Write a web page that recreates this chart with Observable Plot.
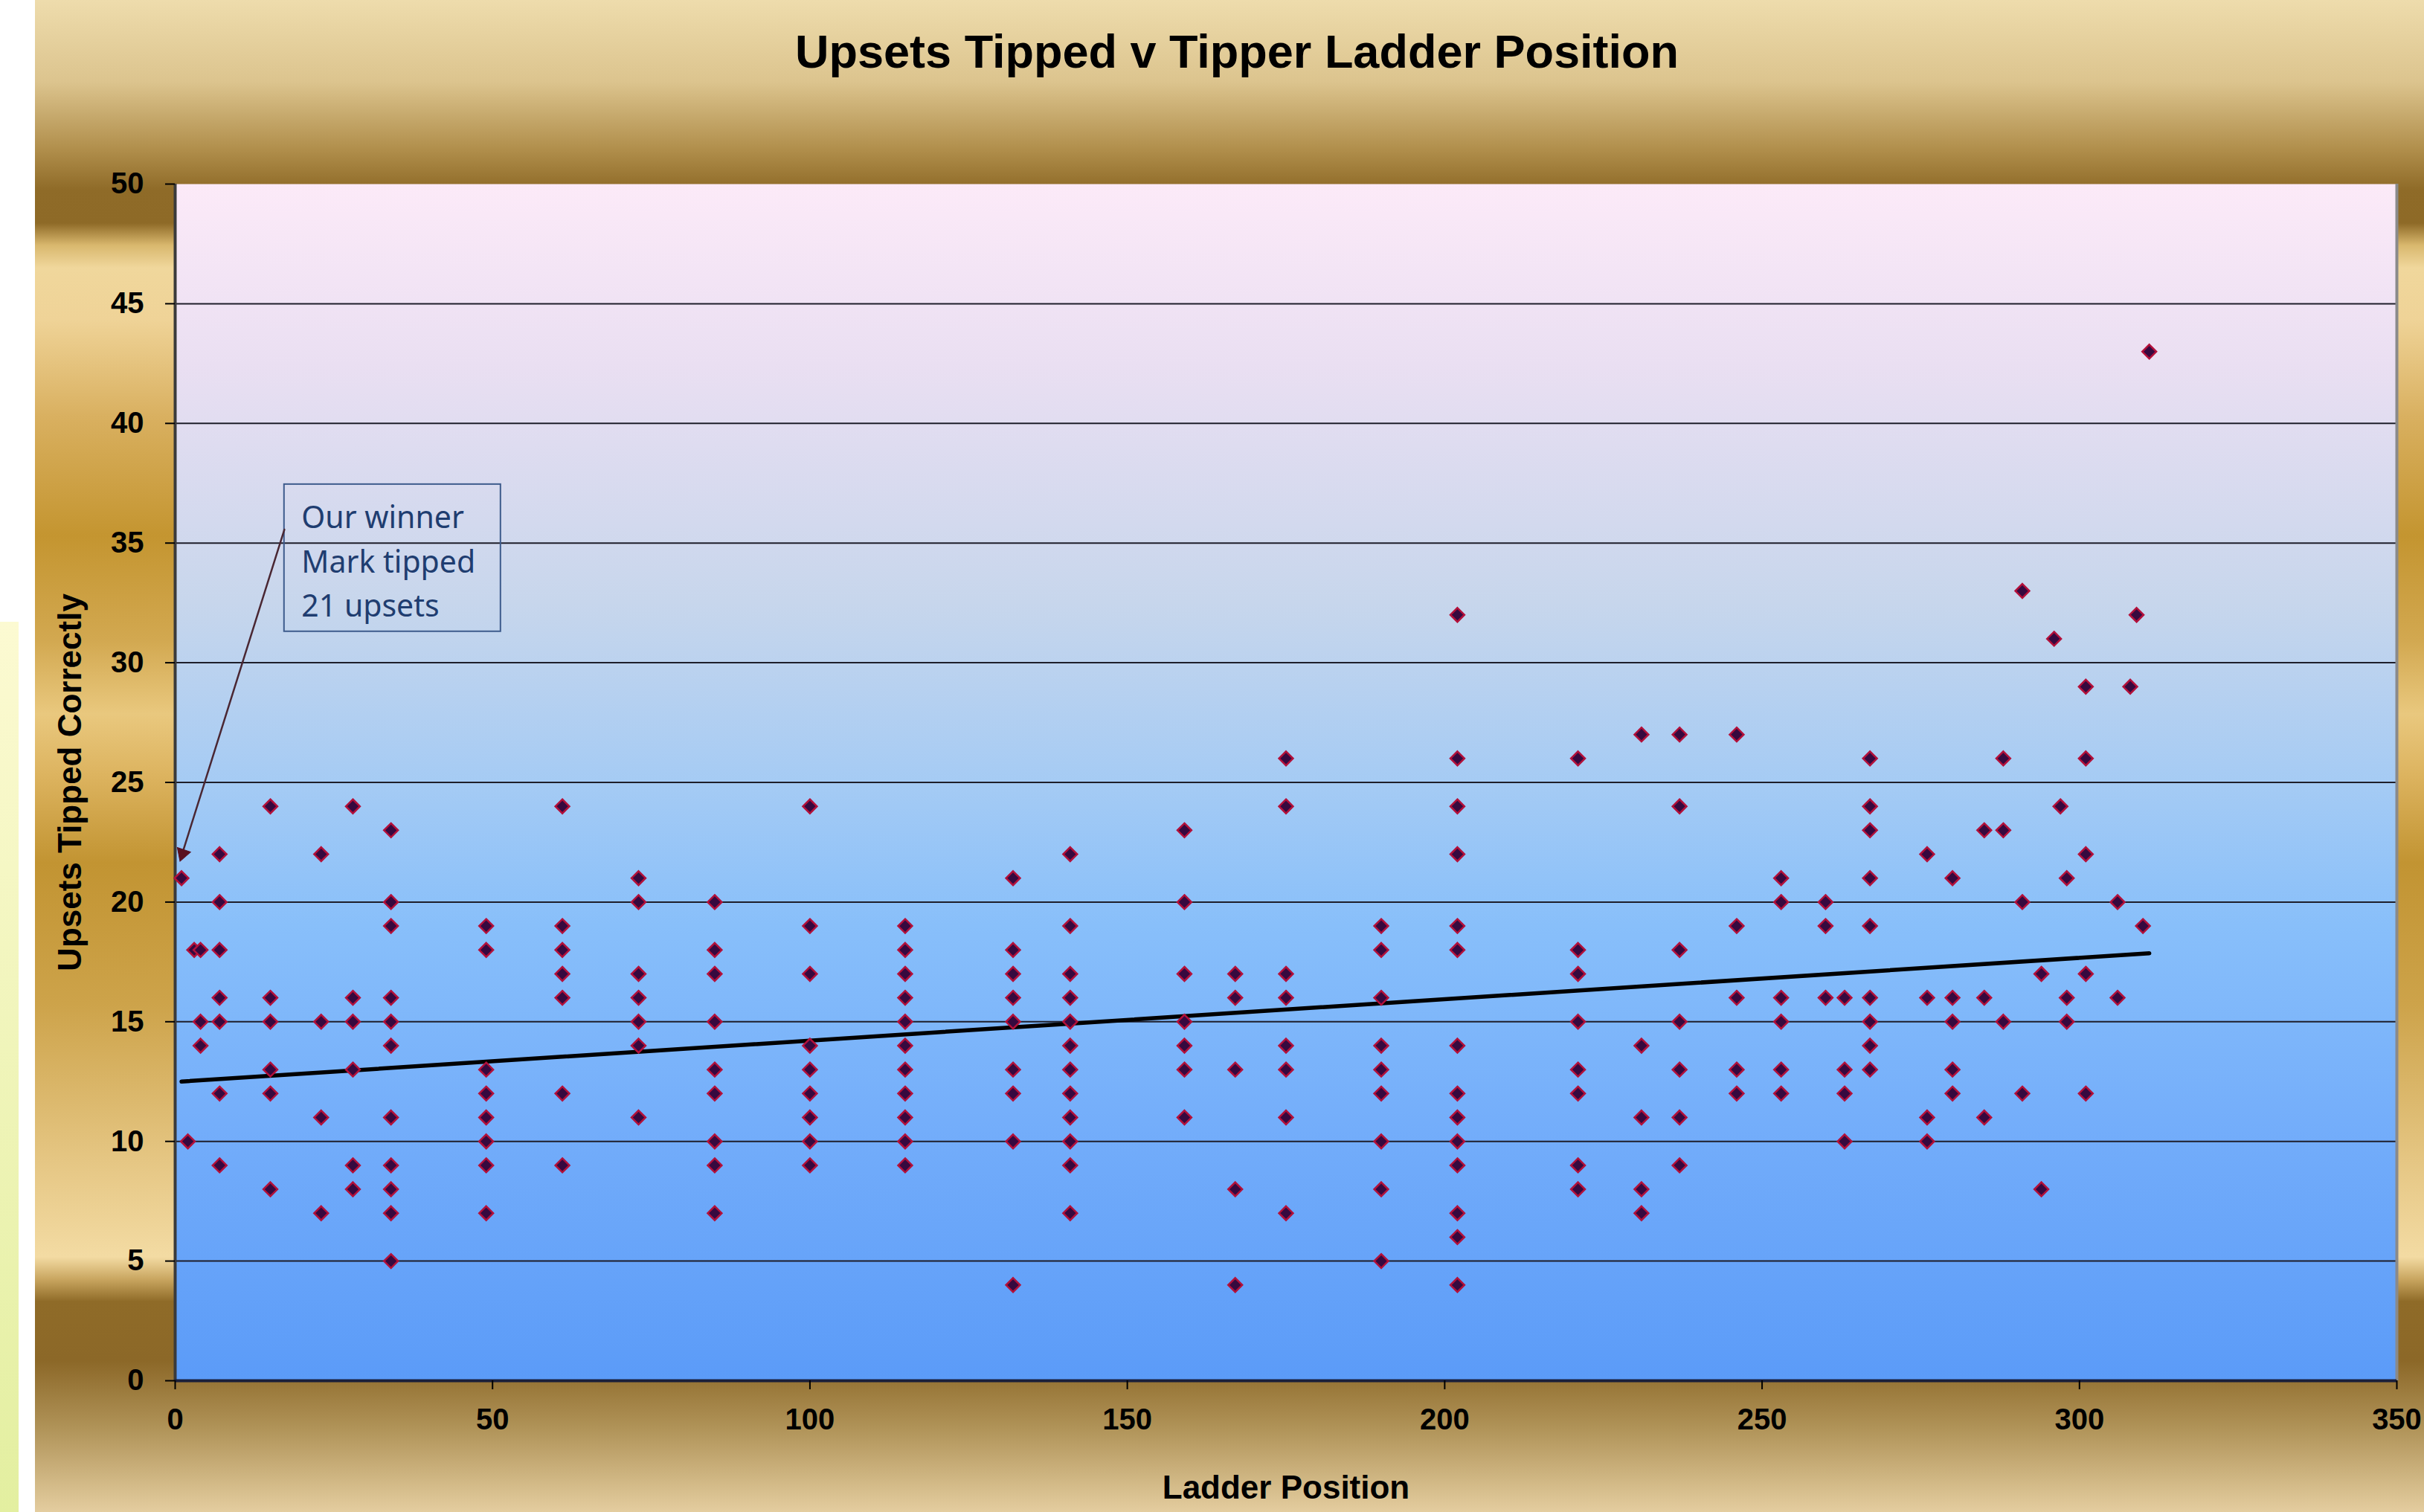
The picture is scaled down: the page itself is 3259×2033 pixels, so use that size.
<!DOCTYPE html>
<html>
<head>
<meta charset="utf-8">
<script src="https://cdn.jsdelivr.net/npm/d3@7"></script>
<script src="https://cdn.jsdelivr.net/npm/@observablehq/plot@0.6"></script>
<style>
  html, body { margin: 0; padding: 0; background: #fff; }
  #wrap { position: relative; width: 3259px; height: 2033px; overflow: hidden; background: #fff; }
  #gold {
    position: absolute; left: 47px; top: 0; width: 3212px; height: 2033px;
    background: linear-gradient(to bottom,
      #EEDCAC 0px, #DCC48E 110px, #B18F4C 200px, #8F6B28 255px, #8E6A27 300px,
      #D9B86E 330px, #F0D79C 360px, #EFD397 430px, #D9B060 560px, #C49530 720px,
      #D2A850 860px, #E9C87E 960px, #DDB460 1040px, #C29432 1160px, #CDA34A 1350px,
      #E5C683 1560px, #F3DBA3 1690px, #C9A660 1720px, #8F6B28 1750px, #8C6828 1830px,
      #B09358 1920px, #E4CD9F 2033px);
  }
  #strip { position: absolute; left: 0; top: 836px; width: 25px; height: 1197px;
    background: linear-gradient(to bottom, #FCFAD2, #E3EFA0); }
  #title { position: absolute; left: 63px; width: 3200px; top: 38px; text-align: center;
    font: bold 63px/63px 'Liberation Sans', Arial, sans-serif; color: #000; margin: 0; }
  #chart { position: absolute; left: 0; top: 0; }
</style>
</head>
<body>
<div id="wrap">
  <div id="gold"></div>
  <div id="strip"></div>
  <div id="chart"></div>
  <h1 id="title">Upsets Tipped v Tipper Ladder Position</h1>
</div>
<script>
// ---- Data ----
const ladderPositions = [1, 2, 3, 4, 7, 15, 23, 28, 34, 49, 61, 73, 85, 100, 115, 132, 141, 159, 167, 175,
  190, 202, 221, 231, 237, 246, 253, 260, 263, 267, 276, 280, 285, 288, 291, 294, 296, 297, 298, 301,
  306, 308, 309, 310, 311];
const upsetsTipped = [
  [21], [10], [18], [18, 15, 14],
  [22, 20, 18, 16, 15, 12, 9],
  [24, 16, 15, 13, 12, 8],
  [22, 15, 11, 7],
  [24, 16, 15, 13, 9, 8],
  [23, 20, 19, 16, 15, 14, 11, 9, 8, 7, 5],
  [19, 18, 13, 12, 11, 10, 9, 7],
  [24, 19, 18, 17, 16, 12, 9],
  [21, 20, 17, 16, 15, 14, 11],
  [20, 18, 17, 15, 13, 12, 10, 9, 7],
  [24, 19, 17, 14, 13, 12, 11, 10, 9],
  [19, 18, 17, 16, 15, 14, 13, 12, 11, 10, 9],
  [21, 18, 17, 16, 15, 13, 12, 10, 4],
  [22, 19, 17, 16, 15, 14, 13, 12, 11, 10, 9, 7],
  [23, 20, 17, 15, 14, 13, 11],
  [17, 16, 13, 8, 4],
  [26, 24, 17, 16, 14, 13, 11, 7],
  [19, 18, 16, 14, 13, 12, 10, 8, 5],
  [32, 26, 24, 22, 19, 18, 14, 12, 11, 10, 9, 7, 6, 4],
  [26, 18, 17, 15, 13, 12, 9, 8],
  [27, 14, 11, 8, 7],
  [27, 24, 18, 15, 13, 11, 9],
  [27, 19, 16, 13, 12],
  [21, 20, 16, 15, 13, 12],
  [20, 19, 16],
  [16, 13, 12, 10],
  [26, 24, 23, 21, 19, 16, 15, 14, 13],
  [22, 16, 11, 10],
  [21, 16, 15, 13, 12],
  [23, 16, 11],
  [26, 23, 15],
  [33, 20, 12],
  [17, 8],
  [31],
  [24],
  [21, 16, 15],
  [29, 26, 22, 17, 12],
  [20, 16],
  [29],
  [32],
  [19],
  [43]
];
// linear trendline endpoints
const trendPositions = [1, 311];
const trendUpsets = [12.5, 17.86];
const xTicks = [0, 50, 100, 150, 200, 250, 300, 350];
const yTicks = [0, 5, 10, 15, 20, 25, 30, 35, 40, 45, 50];
const winner = [{position: 1, upsets: 21}];
const annotationText = ["Our winner\nMark tipped\n21 upsets"];
const xLabel = ["Ladder Position"];
const yLabel = ["Upsets Tipped Correctly"];

const points = ladderPositions.flatMap((p, i) => upsetsTipped[i].map(u => ({position: p, upsets: u})));
const trend = trendPositions.map((p, i) => ({position: p, upsets: trendUpsets[i]}));

const chart = Plot.plot({
  width: 3259,
  height: 2033,
  marginLeft: 235,
  marginRight: 37,
  marginTop: 247,
  marginBottom: 177,
  x: {domain: [0, 350], label: null},
  y: {domain: [0, 50], label: null},
  style: {background: "transparent", fontFamily: "'Liberation Sans', Arial, sans-serif", color: "#000", overflow: "visible"},
  marks: [
    Plot.frame({fill: "url(#plotBg)", stroke: "none"}),
    Plot.gridY(yTicks.filter(t => t > 0 && t < 50), {stroke: "#1e1e2a", strokeOpacity: 1, strokeWidth: 2}),
    Plot.ruleX([350], {stroke: "#8a8a8a", strokeWidth: 4}),
    Plot.ruleX([0], {stroke: "#3a3a3a", strokeWidth: 4}),
    Plot.ruleY([0], {stroke: "#1a1f3a", strokeWidth: 4}),
    Plot.axisY({ticks: yTicks, tickSize: 13, tickPadding: 29, fontSize: 40, fontWeight: "bold", label: null, strokeWidth: 2}),
    Plot.axisX({ticks: xTicks, tickSize: 12, tickPadding: 25, fontSize: 40, fontWeight: "bold", label: null, strokeWidth: 2}),
    Plot.text(xLabel, {frameAnchor: "bottom", dy: 158, fontSize: 44, fontWeight: "bold"}),
    Plot.text(yLabel, {frameAnchor: "left", textAnchor: "middle", dx: -141, rotate: -90, fontSize: 44, fontWeight: "bold"}),
    Plot.line(trend, {x: "position", y: "upsets", stroke: "#000", strokeWidth: 5.5}),
    Plot.dot(points, {x: "position", y: "upsets", symbol: "diamond2", r: 8.5, fill: "#36093f", stroke: "#b3103a", strokeWidth: 2.5}),
    // annotation box, text and arrow
    Plot.rect([0], {x1: 17.2, x2: 51.3, y1: 31.3, y2: 37.45, fill: "none", stroke: "#3d5b8c", strokeWidth: 2}),
    Plot.text(annotationText, {x: 19.9, y: 34.37, textAnchor: "start", lineAnchor: "middle", lineHeight: 1.45,
      fontSize: 41, fontFamily: "'Noto Sans', 'Open Sans', sans-serif", fontWeight: "normal", fill: "#1f3d70"}),
    Plot.arrow(winner, {x1: () => 17.5, y1: () => 34.88, x2: "position", y2: "upsets", dx: -2.5, dy: -22,
      insetEnd: 12, headLength: 0, stroke: "#4a2733", strokeWidth: 2.5}),
    Plot.dot(winner, {x: "position", y: "upsets", symbol: "triangle", r: 7, rotate: 199, dx: 1.5, dy: -33,
      fill: "#5a1020", stroke: "#5a1020", strokeWidth: 1})
  ]
});

d3.select(chart).insert("defs", ":first-child").html(
  `<linearGradient id="plotBg" x1="0" y1="0" x2="0" y2="1">
     <stop offset="0" stop-color="#FCEAF8"/>
     <stop offset="0.15" stop-color="#EADFF2"/>
     <stop offset="0.35" stop-color="#C7D6EC"/>
     <stop offset="0.5" stop-color="#A5CBF4"/>
     <stop offset="0.62" stop-color="#88BFFA"/>
     <stop offset="0.8" stop-color="#72ACFA"/>
     <stop offset="1" stop-color="#5B9BF8"/>
   </linearGradient>`);

document.getElementById("chart").appendChild(chart);
</script>
</body>
</html>
